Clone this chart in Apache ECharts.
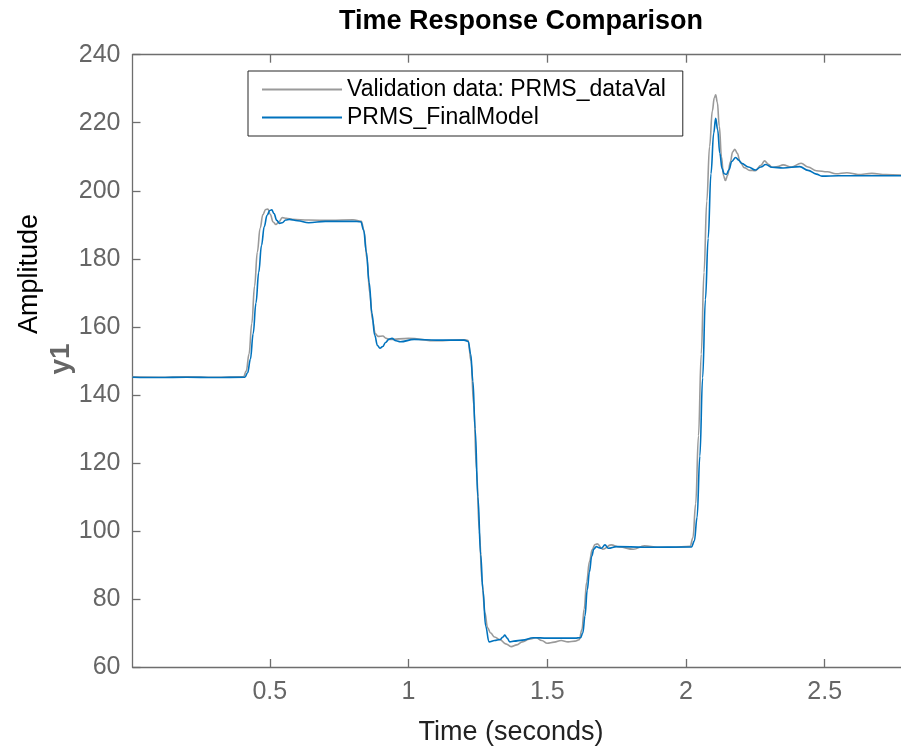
<!DOCTYPE html>
<html>
<head>
<meta charset="utf-8">
<script src="https://cdn.jsdelivr.net/npm/echarts@6/dist/echarts.min.js"></script>
<style>
html,body{margin:0;padding:0;background:#fff;}
#chart{width:901px;height:749px;}
</style>
</head>
<body>
<div id="chart"></div>
<script>
// 数据: 验证数据 (灰色)
var valTime = [0.005,0.1,0.2,0.3,0.405,0.415,0.425,0.435,0.445,0.455,0.465,0.475,0.485,0.493,0.502,0.512,0.522,0.532,0.545,0.56,0.58,0.64,0.72,0.8,0.83,0.84,0.85,0.86,0.87,0.88,0.89,0.907,0.92,0.93,1.0,1.1,1.2,1.215,1.225,1.235,1.245,1.255,1.265,1.275,1.285,1.296,1.31,1.33,1.35,1.37,1.39,1.41,1.435,1.46,1.48,1.5,1.525,1.55,1.575,1.6,1.615,1.625,1.633,1.642,1.652,1.662,1.672,1.68,1.7,1.73,1.76,1.81,1.85,1.9,1.95,2.015,2.025,2.035,2.045,2.055,2.065,2.075,2.085,2.095,2.102,2.107,2.113,2.12,2.128,2.135,2.142,2.15,2.16,2.168,2.176,2.185,2.195,2.21,2.23,2.25,2.27,2.283,2.297,2.31,2.33,2.35,2.38,2.415,2.44,2.47,2.51,2.54,2.58,2.62,2.67,2.72,2.775];
var valAmp = [145.3,145.2,145.3,145.2,145.3,147,152,161,172,182,189,193,194.5,194.6,193,190.8,190.1,190.8,192.1,191.9,191.6,191.4,191.3,191.5,191,188,180,170,162,158,157.2,157.3,156.6,156.3,156.6,155.9,156.2,156,150,137,118,100,85,76,71.5,70,68.8,68,66.8,66.0,66.5,67.4,68.2,68.6,67.8,67.0,67.3,67.8,67.4,67.6,68,71,77,85,91,94.5,96,96.2,94.6,95.9,95.3,94.6,95.6,95.2,95.2,95.5,98,108,128,152,176,197,213,223.5,227.3,228.2,226,219,210,204.5,203,204.5,208.5,211.4,212.2,211,208.5,206.8,206,205.9,207.5,208.8,207.8,206.9,207.1,207.6,207,208.1,207,205.9,205.6,205,205.3,204.8,205.1,204.8,204.6];

// 数据: 模型输出 (蓝色)
var modelTime = [0.005,0.1,0.2,0.3,0.41,0.42,0.43,0.44,0.45,0.46,0.47,0.48,0.49,0.5,0.507,0.515,0.525,0.535,0.545,0.557,0.57,0.6,0.64,0.7,0.8,0.828,0.838,0.848,0.858,0.868,0.878,0.888,0.897,0.907,0.917,0.93,0.94,0.955,0.97,1.02,1.1,1.2,1.215,1.224,1.232,1.24,1.25,1.26,1.268,1.278,1.29,1.31,1.33,1.34,1.347,1.355,1.365,1.38,1.41,1.45,1.5,1.6,1.62,1.628,1.636,1.644,1.652,1.66,1.668,1.677,1.686,1.695,1.708,1.72,1.75,1.85,2.02,2.03,2.04,2.05,2.06,2.07,2.08,2.09,2.1,2.107,2.114,2.122,2.13,2.138,2.146,2.155,2.165,2.179,2.19,2.2,2.225,2.25,2.27,2.287,2.31,2.35,2.41,2.44,2.47,2.49,2.55,2.65,2.775];
var modelAmp = [145.2,145.1,145.2,145.1,145.2,146.5,150.5,158,167,176,184,189.5,192.8,194.2,194.4,193.3,191.3,190.4,190.6,191.4,191.6,191.2,190.6,191.0,191.0,190.9,188.5,182,173,164,157.5,154.5,153.7,154.2,155.4,156.4,156.6,155.9,155.6,156.3,156.1,156.1,155.7,152,144,130,110,93,82.6,72,67.4,67.8,68.1,68.8,69.4,68.5,67.4,67.6,67.9,68.6,68.5,68.5,68.6,70,75,82.6,88,92.5,94.7,95.4,95.1,94.9,95.9,94.9,95.4,95.2,95.3,97,104,122,145,168,186,205,217,221.3,218,211,206.5,205,204.8,206.2,208.6,209.8,209,208.1,207,206.1,207,207.7,206.9,206.7,207.1,206,204.9,204.3,204.4,204.4,204.4];

var xTicks = [0.5,1,1.5,2,2.5];
var seriesNames = ['Validation data: PRMS_dataVal','PRMS_FinalModel'];

function pairs(t, v){
	var out = [];
	for(var i=0;i<t.length;i++){ out.push([t[i], v[i]]); }
	return out;
}

var axisGray = '#6e6e6e';
var fontName = 'Liberation Sans, Arial, sans-serif';
var chart = echarts.init(document.getElementById('chart'));
var option = {
	animation:false,
	backgroundColor:'#fff',
	textStyle:{fontFamily:fontName},
	title:{
		text:'Time Response Comparison',
		left:516,
		top:3,
		textAlign:'center',
		textStyle:{fontSize:27,fontWeight:'bold',color:'#000'}
	},
	legend:{
		data:seriesNames,
		orient:'vertical',
		left:248,
		top:71,
		padding:[7,17,7,14],
		itemWidth:80,
		itemHeight:2,
		itemGap:5,
		icon:'rect',
		borderColor:'#262626',
		borderWidth:1,
		backgroundColor:'#fff',
		textStyle:{fontSize:23,color:'#000'}
	},
	grid:{
		left:132.5,
		top:54.7,
		right:0,
		bottom:82
	},
	xAxis:[{
		type:'value',
		min:0.005,
		max:2.775,
		axisLine:{lineStyle:{color:axisGray,width:1.3}},
		axisTick:{inside:true,length:8,customValues:xTicks,lineStyle:{color:axisGray,width:1.3}},
		axisLabel:{customValues:xTicks,fontSize:25,color:'#666',margin:13},
		splitLine:{show:false}
	},{
		type:'value',
		position:'top',
		min:0.005,
		max:2.775,
		axisLine:{lineStyle:{color:axisGray,width:1.3}},
		axisTick:{inside:true,length:8,customValues:xTicks,lineStyle:{color:axisGray,width:1.3}},
		axisLabel:{show:false},
		splitLine:{show:false}
	}],
	yAxis:{
		type:'value',
		min:60,
		max:240,
		interval:20,
		axisLine:{show:true,lineStyle:{color:axisGray,width:1.3}},
		axisTick:{show:true,inside:true,length:8,lineStyle:{color:axisGray,width:1.3}},
		axisLabel:{fontSize:25,color:'#666',margin:12},
		splitLine:{show:false}
	},
	graphic:[{
		type:'text',
		x:511,
		y:733,
		style:{text:'Time (seconds)',fill:'#222',font:'27px ' + fontName,textAlign:'center',textVerticalAlign:'middle'}
	},{
		type:'text',
		x:30,
		y:274,
		rotation:Math.PI/2,
		style:{text:'Amplitude',fill:'#000',font:'27px ' + fontName,textAlign:'center',textVerticalAlign:'middle'}
	},{
		type:'text',
		x:61,
		y:359,
		rotation:Math.PI/2,
		style:{text:'y1',fill:'#666',font:'bold 28px ' + fontName,textAlign:'center',textVerticalAlign:'middle'}
	}],
	series:[{
		name:seriesNames[0],
		type:'line',
		xAxisIndex:0,
		symbol:'none',
		smooth:0.4,
		smoothMonotone:'x',
		lineStyle:{color:'#9a9a9a',width:1.6},
		itemStyle:{color:'#9a9a9a'},
		data:pairs(valTime,valAmp)
	},{
		name:seriesNames[1],
		type:'line',
		xAxisIndex:0,
		symbol:'none',
		smooth:0.4,
		smoothMonotone:'x',
		lineStyle:{color:'#0072BD',width:1.6},
		itemStyle:{color:'#0072BD'},
		data:pairs(modelTime,modelAmp)
	}]
};
chart.setOption(option);
</script>
</body>
</html>
